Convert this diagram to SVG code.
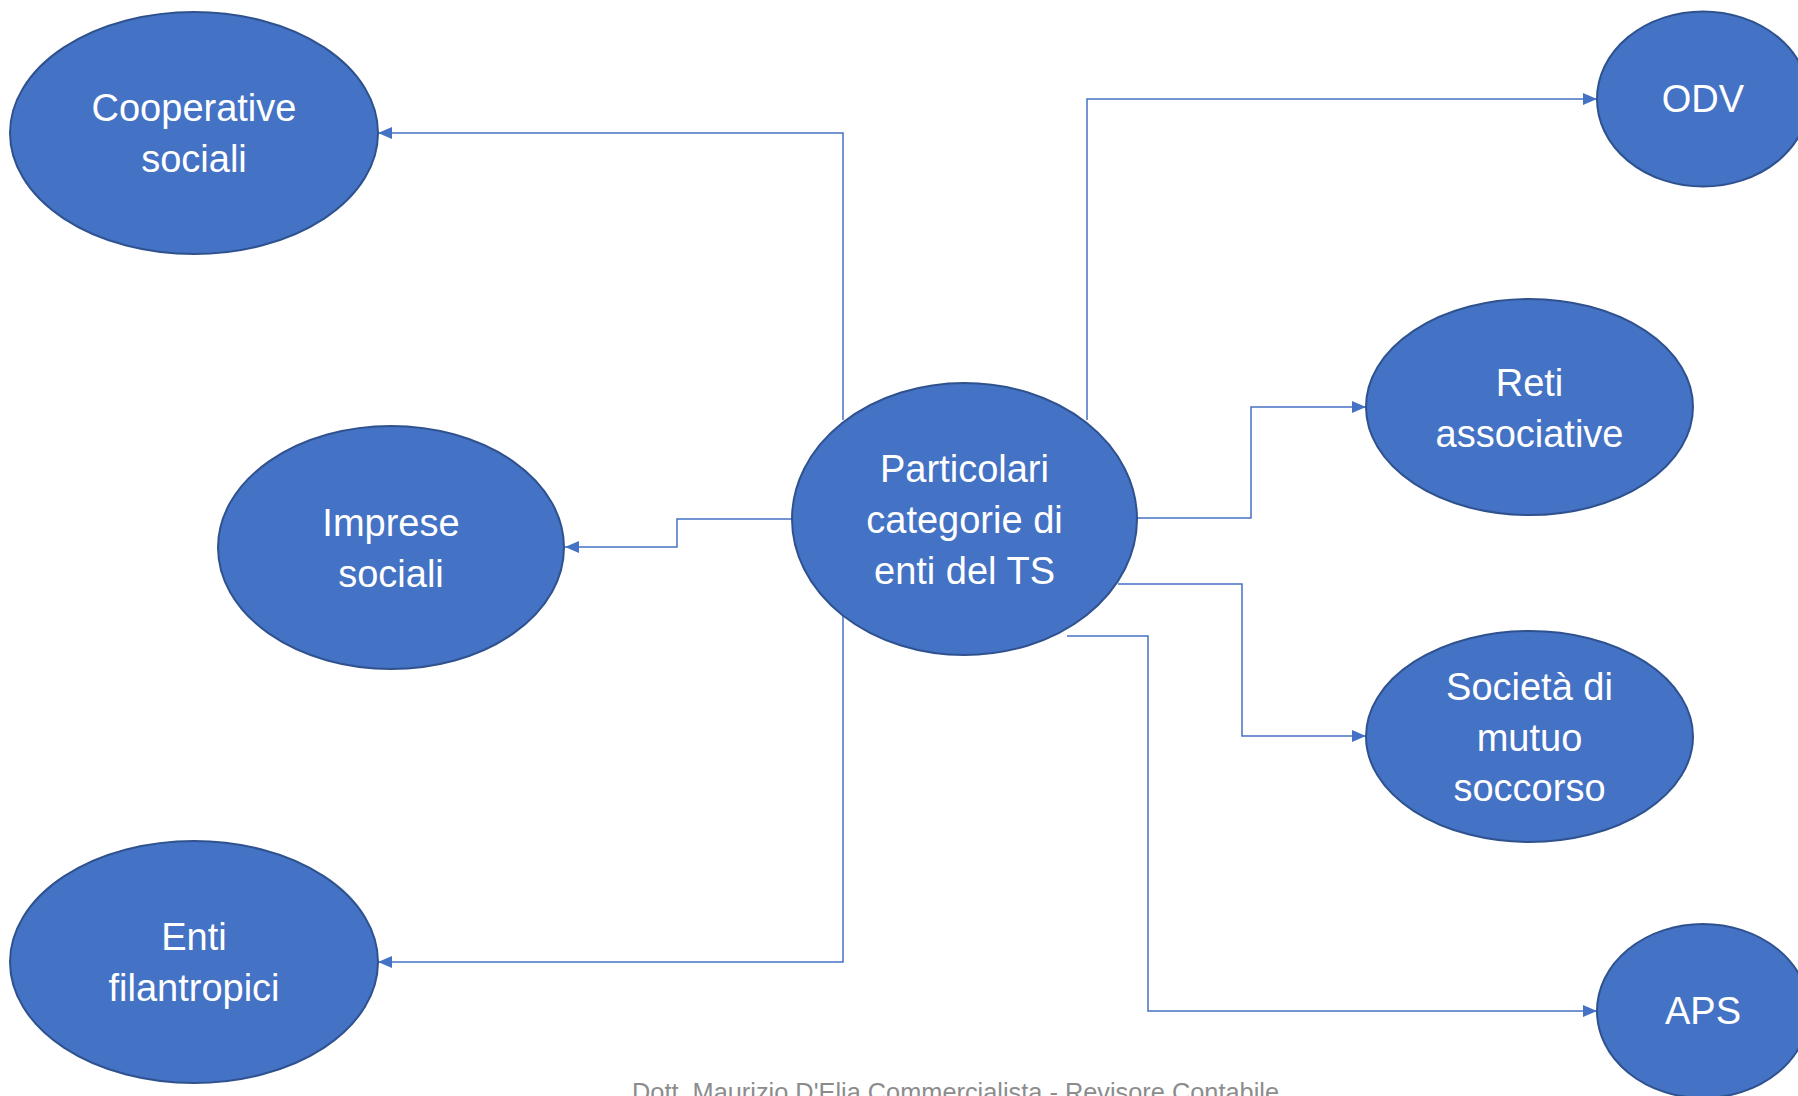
<svg xmlns="http://www.w3.org/2000/svg" width="1798" height="1096" viewBox="0 0 1798 1096">
<defs>
<marker id="arr" viewBox="0 0 14 12" refX="14" refY="6" markerWidth="14" markerHeight="12" markerUnits="userSpaceOnUse" orient="auto">
<path d="M0,0 L14,6 L0,12 Z" fill="#4472C4"/>
</marker>
<style>
.node ellipse{fill:#4472C4;stroke:#2F528F;stroke-width:2}
.node text{fill:#FFFFFF;font-family:"Liberation Sans",Arial,sans-serif;font-size:38px;text-anchor:middle}
.conn path{fill:none;stroke:#4472C4;stroke-width:1.5;marker-end:url(#arr)}
.footer{fill:#8C8C8C;font-family:"Liberation Sans",Arial,sans-serif;font-size:25px}
</style>
</defs>
<rect width="1798" height="1096" fill="#FFFFFF"/>
<g id="connectors" class="conn">
<path d="M843,420 V133 H378"/>
<path d="M792,519 H677 V547 H565"/>
<path d="M843,616 V962 H378"/>
<path d="M1087,420 V99 H1597"/>
<path d="M1137,518 H1251 V407 H1366"/>
<path d="M1118,584 H1242 V736 H1366"/>
<path d="M1067,636 H1148 V1011 H1597"/>
</g>
<g id="n-central" class="node">
<ellipse cx="964.5" cy="519" rx="172.5" ry="136"/>
<text x="964.5" y="482">Particolari</text>
<text x="964.5" y="533">categorie di</text>
<text x="964.5" y="584">enti del TS</text>
</g>
<g id="n-cooperative" class="node">
<ellipse cx="194" cy="133" rx="184" ry="121"/>
<text x="194" y="121">Cooperative</text>
<text x="194" y="172">sociali</text>
</g>
<g id="n-imprese" class="node">
<ellipse cx="391" cy="547.5" rx="173" ry="121.5"/>
<text x="391" y="536">Imprese</text>
<text x="391" y="587">sociali</text>
</g>
<g id="n-enti" class="node">
<ellipse cx="194" cy="962" rx="184" ry="121"/>
<text x="194" y="950">Enti</text>
<text x="194" y="1001">filantropici</text>
</g>
<g id="n-odv" class="node">
<ellipse cx="1703" cy="99" rx="106" ry="87.5"/>
<text x="1703" y="112">ODV</text>
</g>
<g id="n-reti" class="node">
<ellipse cx="1529.5" cy="407" rx="163.5" ry="108"/>
<text x="1529.5" y="396">Reti</text>
<text x="1529.5" y="447">associative</text>
</g>
<g id="n-societa" class="node">
<ellipse cx="1529.5" cy="736.5" rx="163.5" ry="105.5"/>
<text x="1529.5" y="700">Società di</text>
<text x="1529.5" y="751">mutuo</text>
<text x="1529.5" y="801">soccorso</text>
</g>
<g id="n-aps" class="node">
<ellipse cx="1703" cy="1011" rx="106" ry="87"/>
<text x="1703" y="1024">APS</text>
</g>
<text class="footer" x="632" y="1101" textLength="647" lengthAdjust="spacingAndGlyphs">Dott. Maurizio D'Elia Commercialista - Revisore Contabile</text>
</svg>
